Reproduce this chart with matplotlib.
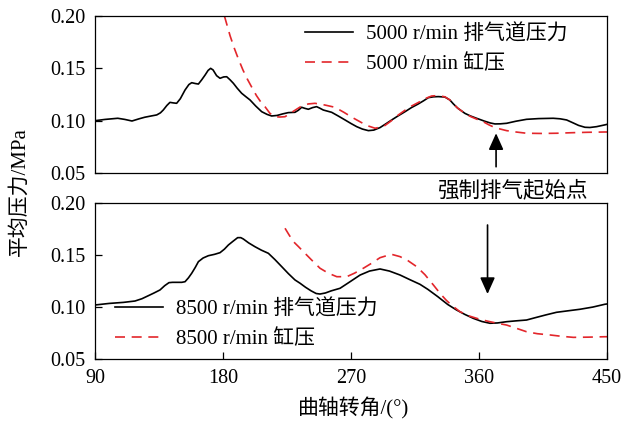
import numpy as np
import matplotlib
matplotlib.use('Agg')
import matplotlib.pyplot as plt

plt.rcParams['font.family'] = ['Liberation Serif', 'Noto Sans CJK SC']
plt.rcParams['font.size'] = 15

# 5000 r/min, exhaust port pressure
ang_5000_port = [90, 97, 106, 111, 116, 121, 125, 129.5, 133.4, 136, 138, 140.5, 142.7, 145, 147.4,
                 150, 153.3, 156, 158, 160.5, 162.7, 165, 167.4, 169.5, 171.3, 173, 175.5, 177.9,
                 180.5, 182.6, 185, 187.3, 190, 193.1, 196, 199, 203, 207.2, 211, 214.2, 218, 222,
                 225.9, 230.6, 233, 235.3, 237.5, 240, 243, 245.8, 248, 250.5, 256.4, 261, 265.8,
                 270, 274, 278, 282.2, 286, 290.4, 294.5, 298.6, 303, 308, 312.5, 317.3, 321,
                 324.4, 328, 331.4, 336, 339.5, 342, 345, 350.1, 354, 358.3, 364, 368, 371.2, 375,
                 379.4, 386, 393.4, 402, 412.2, 417, 421.6, 426, 430, 434.5, 438, 442.7, 448.5, 450]
p_5000_port = [0.1000, 0.1012, 0.1023, 0.1012, 0.0997, 0.1018, 0.1033, 0.1045, 0.1055, 0.1075,
               0.1102, 0.1145, 0.1175, 0.1170, 0.1166, 0.1210, 0.1293, 0.1345, 0.1363, 0.1355,
               0.1350, 0.1390, 0.1436, 0.1480, 0.1500, 0.1485, 0.1430, 0.1405, 0.1418, 0.1420,
               0.1390, 0.1357, 0.1310, 0.1262, 0.1230, 0.1198, 0.1140, 0.1086, 0.1060, 0.1045,
               0.1050, 0.1065, 0.1077, 0.1080, 0.1100, 0.1128, 0.1118, 0.1109, 0.1125, 0.1134,
               0.1120, 0.1102, 0.1080, 0.1045, 0.1007, 0.0973, 0.0943, 0.0920, 0.0905, 0.0910,
               0.0934, 0.0970, 0.1007, 0.1045, 0.1086, 0.1125, 0.1160, 0.1190, 0.1220, 0.1228,
               0.1230, 0.1226, 0.1198, 0.1160, 0.1120, 0.1070, 0.1045, 0.1023, 0.0995, 0.0978,
               0.0969, 0.0970, 0.0975, 0.0995, 0.1013, 0.1020, 0.1023, 0.1018, 0.1007, 0.0980,
               0.0955, 0.0937, 0.0935, 0.0943, 0.0960, 0.0965]

# 5000 r/min, cylinder pressure
ang_5000_cyl = [181, 185, 188, 190.8, 194, 197, 200, 203.5, 206.5, 209.5, 213, 216.5, 220, 223.6,
                229.5, 235.3, 240, 244.7, 251.5, 258.7, 265, 271, 277.5, 282, 286.9, 292.7, 298,
                303.3, 308, 312.6, 317.5, 322, 326.7, 331.4, 336, 339.5, 342, 345, 350.1, 354,
                358.3, 363, 367, 371, 375, 379.4, 386, 393.4, 404, 414.5, 425, 436, 448.5, 450]
p_5000_cyl = [0.200, 0.181, 0.169, 0.159, 0.1485, 0.140, 0.1325, 0.124, 0.118, 0.1134, 0.107,
              0.1038, 0.1035, 0.1038, 0.109, 0.114, 0.116, 0.1166, 0.115, 0.1128, 0.108, 0.103,
              0.0981, 0.095, 0.0928, 0.0943, 0.0995, 0.1055, 0.110, 0.114, 0.1175, 0.121, 0.1236,
              0.124, 0.1228, 0.1198, 0.116, 0.112, 0.107, 0.104, 0.1015, 0.099, 0.096, 0.0935,
              0.092, 0.0905, 0.0892, 0.088, 0.0878, 0.088, 0.0885, 0.0889, 0.0892, 0.0892]

# 8500 r/min, exhaust port pressure
ang_8500_port = [90, 100, 110, 118.1, 123, 127.5, 131.5, 135.7, 139, 142, 144.5, 147.4, 151, 153.3,
                 155.7, 158, 160.5, 162.7, 166, 169.7, 174, 177.9, 181, 183.8, 187, 190.3, 192.5,
                 194.3, 198, 202.5, 207, 211.9, 216.5, 221.3, 226, 230.6, 234.2, 238, 242, 245.5,
                 248.2, 252, 256, 262.3, 269, 276.4, 283, 290.4, 297, 304.5, 311, 318.5, 324, 331,
                 338, 344.2, 350, 356, 362, 367.7, 373, 379.4, 386, 393.4, 400, 407, 414.5, 423,
                 431, 440, 448.5, 450]
p_8500_port = [0.1020, 0.1035, 0.1045, 0.1058, 0.1080, 0.1109, 0.1135, 0.1164, 0.1205, 0.1234,
               0.1237, 0.1237, 0.1237, 0.1243, 0.1280, 0.1324, 0.1380, 0.1435, 0.1470, 0.1492,
               0.1505, 0.1521, 0.1555, 0.1595, 0.1630, 0.1665, 0.1665, 0.1652, 0.1615, 0.1578,
               0.1545, 0.1515, 0.1455, 0.1387, 0.1320, 0.1260, 0.1228, 0.1190, 0.1155, 0.1130,
               0.1125, 0.1135, 0.1155, 0.1180, 0.1240, 0.1307, 0.1345, 0.1365, 0.1345, 0.1307,
               0.1265, 0.1218, 0.1170, 0.1100, 0.1025, 0.0972, 0.0930, 0.0892, 0.0862, 0.0845,
               0.0848, 0.0860, 0.0868, 0.0876, 0.0900, 0.0925, 0.0950, 0.0965, 0.0979, 0.1000,
               0.1027, 0.1030]

# 8500 r/min, cylinder pressure
ang_8500_cyl = [223.6, 226.5, 229.5, 233, 236.5, 242, 248.2, 254, 260, 267, 272.5, 278.7, 284.5,
                290.4, 294.5, 298.6, 304.5, 310, 316.2, 322, 327.9, 333, 337, 341, 346.6, 353,
                360.6, 367, 373, 379.4, 386, 393.4, 401, 409.9, 418, 426.3, 437, 448.5, 450]
p_8500_cyl = [0.1755, 0.169, 0.1627, 0.158, 0.1531, 0.1455, 0.1372, 0.1325, 0.1291, 0.1291, 0.1325,
              0.1372, 0.142, 0.1473, 0.149, 0.1505, 0.1483, 0.1445, 0.1387, 0.131, 0.1212, 0.1125,
              0.1065, 0.1015, 0.0956, 0.0915, 0.0883, 0.0862, 0.0845, 0.0828, 0.0798, 0.0764,
              0.0745, 0.0733, 0.072, 0.071, 0.0712, 0.0716, 0.0716]

xticks = [90, 180, 270, 360, 450]
yticks = [0.05, 0.10, 0.15, 0.20]
red = '#e3262b'

fig = plt.figure(figsize=(6.3, 4.21), dpi=100)
ax1 = fig.add_axes([0.1508, 0.589, 0.8127, 0.373])
ax2 = fig.add_axes([0.1508, 0.1466, 0.8127, 0.372])

ax1.plot(ang_5000_port, p_5000_port, color='k', lw=1.2, label='5000 r/min 排气道压力')
ax1.plot(ang_5000_cyl, p_5000_cyl, color=red, lw=1.2, dashes=(6, 4), label='5000 r/min 缸压')
ax2.plot(ang_8500_port, p_8500_port, color='k', lw=1.2, label='8500 r/min 排气道压力')
ax2.plot(ang_8500_cyl, p_8500_cyl, color=red, lw=1.2, dashes=(6, 4), label='8500 r/min 缸压')

for ax in (ax1, ax2):
    ax.set_xlim(90, 450)
    ax.set_ylim(0.05, 0.20)
    ax.set_xticks(xticks)
    ax.set_yticks(yticks)
    ax.set_yticklabels(['%.2f' % v for v in yticks])
    ax.tick_params(direction='in', length=5, width=0.9, pad=7, labelsize=14.5)
    for s in ax.spines.values():
        s.set_linewidth(0.9)
ax1.tick_params(axis='x', bottom=False, labelbottom=False)

leg_kw = dict(frameon=False, borderpad=0, borderaxespad=0, handlelength=2.3,
              handletextpad=0.65, labelspacing=0.5, fontsize=15)
ax1.legend(loc='upper left', bbox_to_anchor=(305 / 630, 1 - 24 / 421),
           bbox_transform=fig.transFigure, **leg_kw)
ax2.legend(loc='upper left', bbox_to_anchor=(115 / 630, 1 - 299 / 421),
           bbox_transform=fig.transFigure, **leg_kw)

arrow = dict(arrowstyle='-|>,head_width=0.45,head_length=1.0', mutation_scale=10,
             lw=1.2, color='k', shrinkA=0, shrinkB=0)
ax1.annotate('', xy=(372, 0.088), xytext=(372, 0.056), arrowprops=arrow)
ax2.annotate('', xy=(366, 0.1125), xytext=(366, 0.1786), arrowprops=arrow)
fig.text(513 / 630, 1 - 191 / 421, '强制排气起始点', ha='center', va='center', fontsize=15.5)

fig.text(20 / 630, 1 - 192 / 421, '平均压力/MPa', rotation=90, ha='center', va='center', fontsize=15)
fig.text(354 / 630, 1 - 408 / 421, '曲轴转角/(°)', ha='center', va='center', fontsize=15)

fig.savefig('out.png', dpi=100)
